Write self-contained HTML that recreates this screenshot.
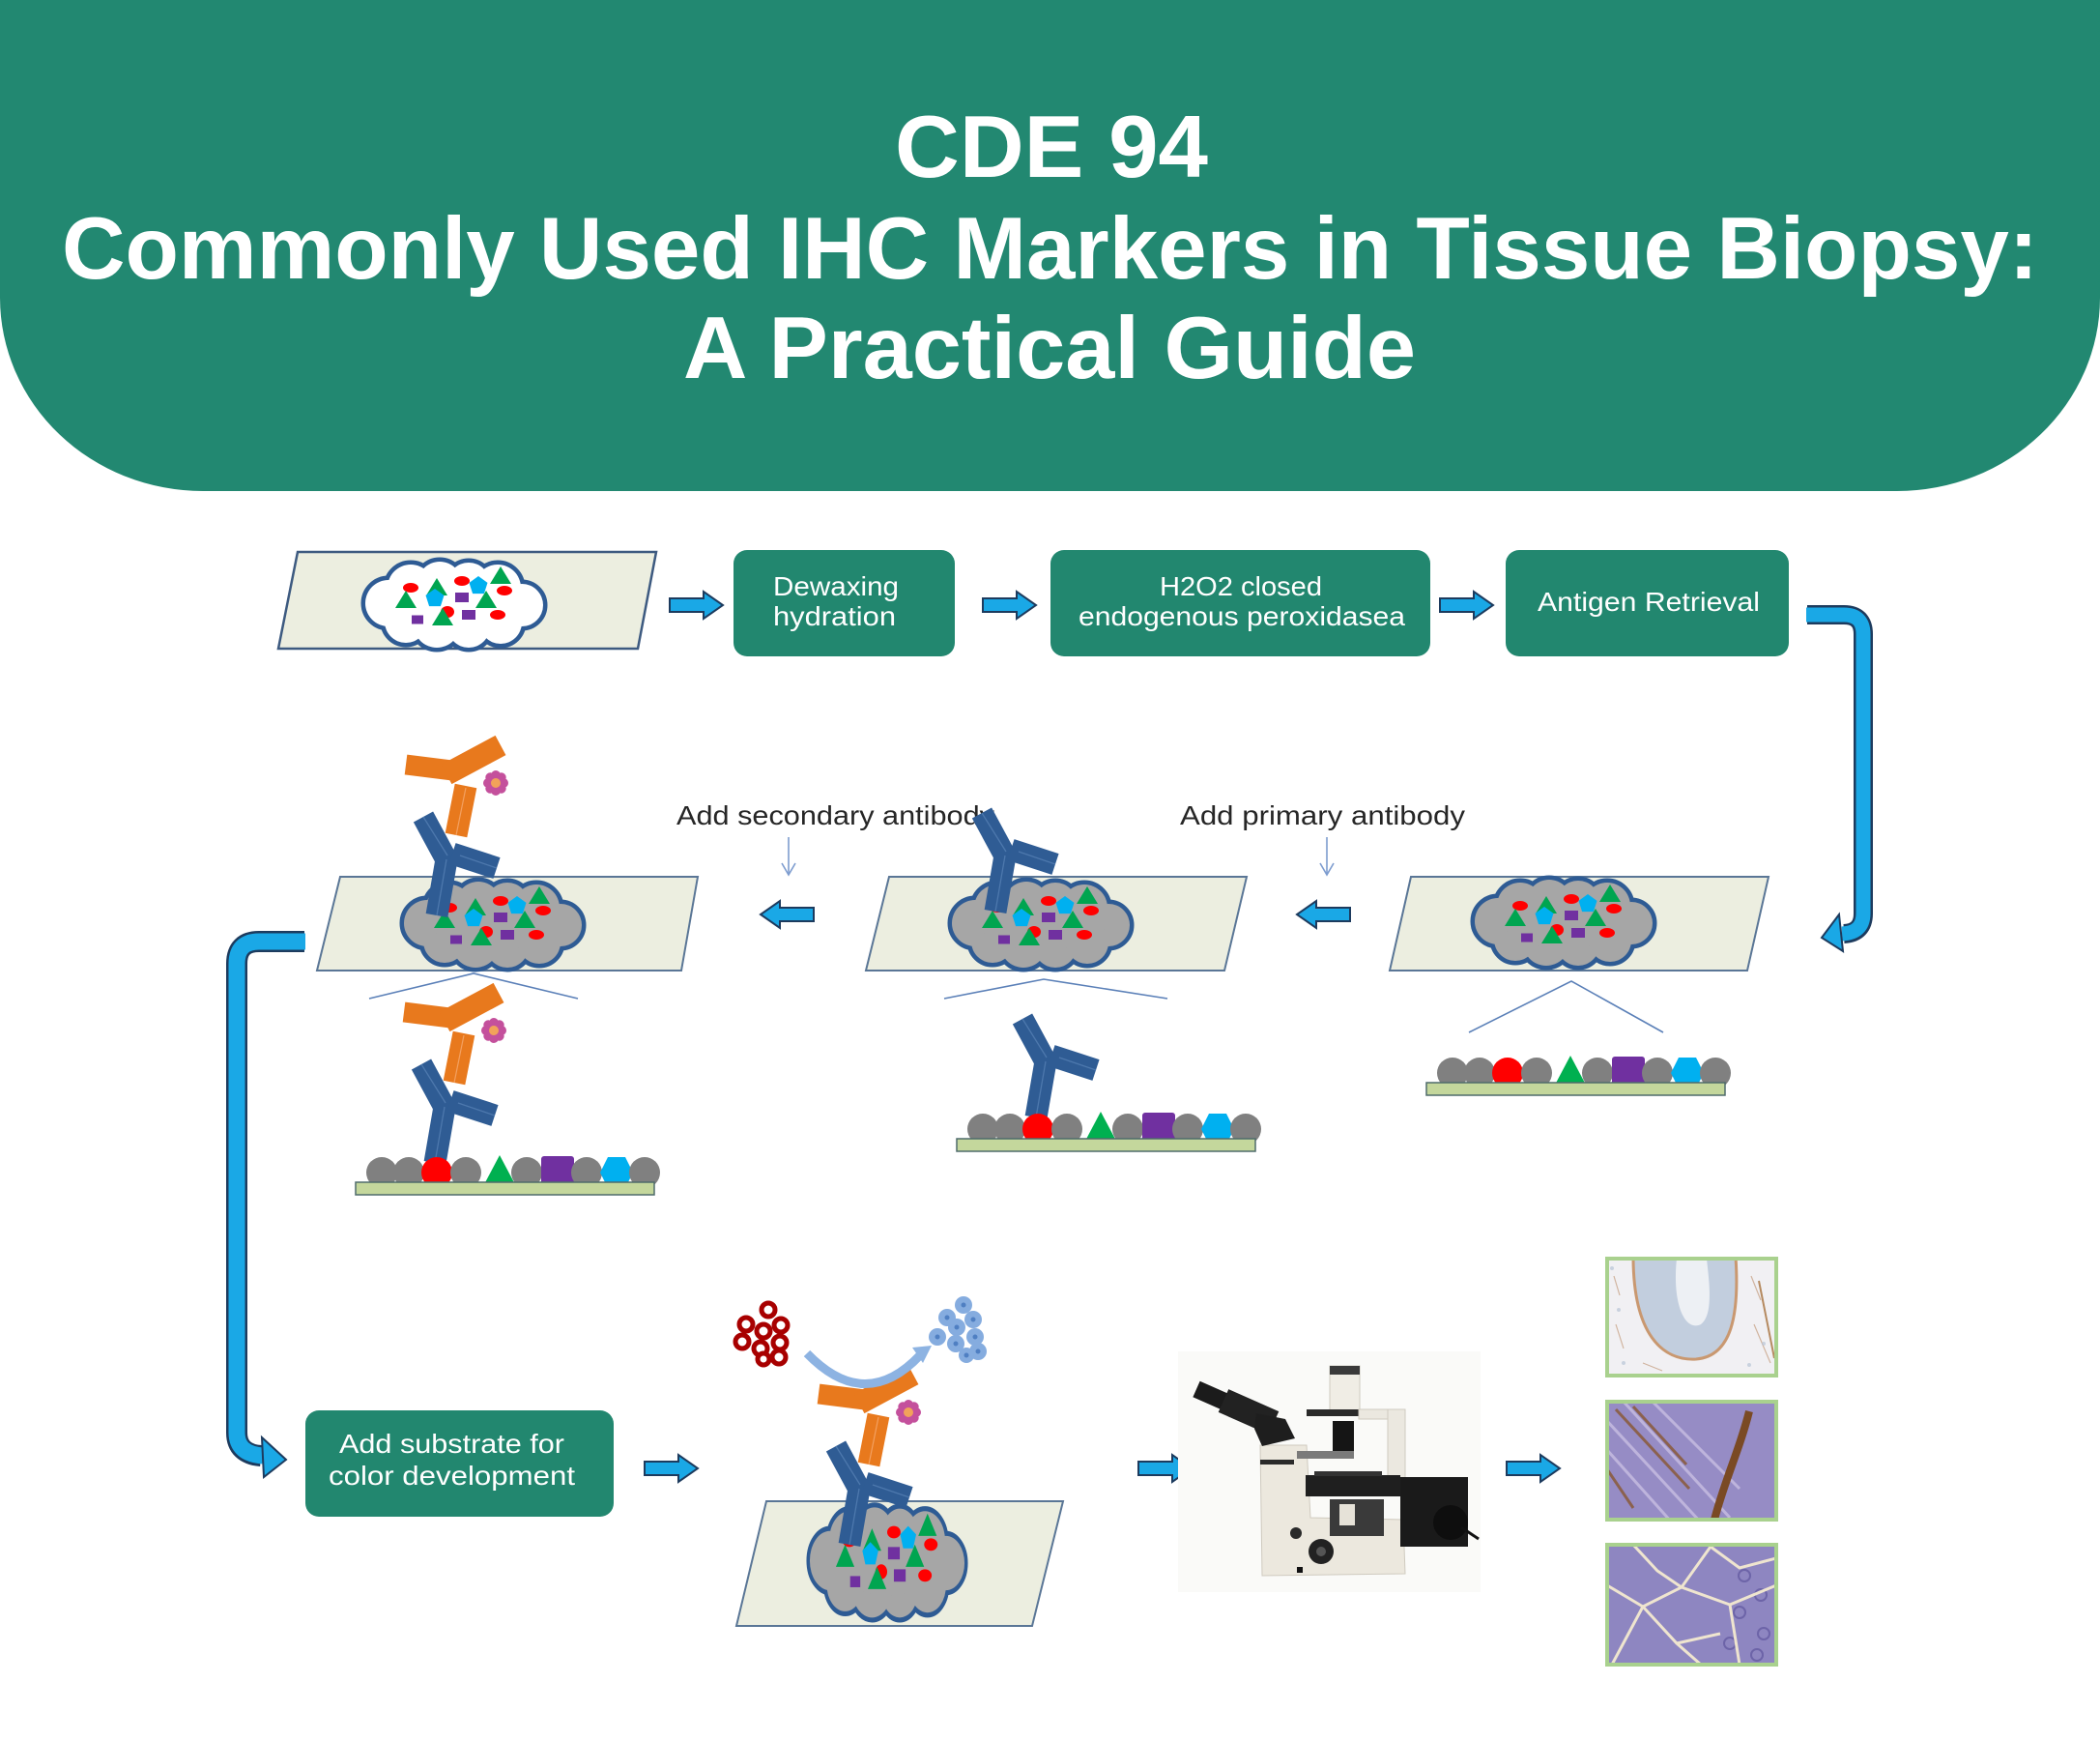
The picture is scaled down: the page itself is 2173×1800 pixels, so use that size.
<!DOCTYPE html>
<html><head><meta charset="utf-8"><style>
html,body{margin:0;padding:0;background:#fff;width:2173px;height:1800px;overflow:hidden}
svg{display:block}
</style></head><body>
<svg xmlns="http://www.w3.org/2000/svg" xmlns:xlink="http://www.w3.org/1999/xlink" width="2173" height="1800" viewBox="0 0 2173 1800" font-family="'Liberation Sans', Arial, sans-serif">
<defs>
  <g id="cl">
    <circle cx="-68" cy="-2" r="24"/><circle cx="-45" cy="-18" r="24"/><circle cx="-15" cy="-22" r="23"/>
    <circle cx="15" cy="-22" r="22"/><circle cx="45" cy="-18" r="24"/><circle cx="70" cy="0" r="22"/>
    <circle cx="48" cy="18" r="22"/><circle cx="15" cy="22" r="22"/><circle cx="-18" cy="20" r="24"/>
    <circle cx="-50" cy="17" r="22"/><ellipse cx="0" cy="0" rx="62" ry="26"/>
  </g>
  <g id="cc">
    <g fill="#ff0000">
      <ellipse cx="-45" cy="-18" rx="8" ry="5"/><ellipse cx="8" cy="-25" rx="8" ry="5"/>
      <ellipse cx="52" cy="-15" rx="8" ry="5"/><ellipse cx="-7" cy="7" rx="7" ry="6"/>
      <ellipse cx="45" cy="10" rx="8" ry="5"/>
    </g>
    <g fill="#00a550">
      <polygon points="-29,-10 -7,-10 -18,-28"/><polygon points="37,-22 59,-22 48,-40"/>
      <polygon points="-61,3 -39,3 -50,-15"/><polygon points="22,3 44,3 33,-15"/>
      <polygon points="-23,21 -1,21 -12,3"/>
    </g>
    <g fill="#00b0f0">
      <polygon points="25,-30 34.5,-23.1 30.9,-11.9 19.1,-11.9 15.5,-23.1"/>
      <polygon points="-20,-17 -10.5,-10.1 -14.1,1.1 -25.9,1.1 -29.5,-10.1"/>
    </g>
    <g fill="#7030a0">
      <rect x="1" y="-13" width="14" height="10"/><rect x="-44" y="10.5" width="12" height="9"/>
      <rect x="8" y="5" width="14" height="10"/>
    </g>
  </g>
  <g id="ab1">
    <g stroke="#2f5c94" stroke-width="23">
      <line x1="2" y1="0" x2="12" y2="-58"/>
      <line x1="15" y1="-52" x2="-12" y2="-102"/>
      <line x1="18" y1="-64" x2="64" y2="-49"/>
    </g>
    <g stroke="#4d78ad" stroke-width="1.3">
      <line x1="2" y1="0" x2="12" y2="-58"/>
      <line x1="13" y1="-62" x2="-12" y2="-102"/>
      <line x1="26" y1="-62" x2="64" y2="-49"/>
    </g>
  </g>
  <g id="ab2">
    <use xlink:href="#ab1"/>
    <g stroke="#e8791d" stroke-width="23">
      <line x1="22" y1="-83" x2="32" y2="-134"/>
      <line x1="-30" y1="-156" x2="18" y2="-150" stroke-width="21"/>
      <line x1="12" y1="-146" x2="68" y2="-176"/>
    </g>
    <g stroke="#f3a060" stroke-width="1.2">
      <line x1="22" y1="-83" x2="32" y2="-132"/>
    </g>
    <g fill="#c4509c">
      <circle cx="71" cy="-137" r="5"/><circle cx="55" cy="-137" r="5"/><circle cx="63" cy="-145" r="5"/><circle cx="63" cy="-129" r="5"/>
      <circle cx="68.7" cy="-142.7" r="5"/><circle cx="57.3" cy="-142.7" r="5"/><circle cx="68.7" cy="-131.3" r="5"/><circle cx="57.3" cy="-131.3" r="5"/>
    </g>
    <circle cx="63" cy="-137" r="5" fill="#f2a25a"/>
  </g>
  <g id="beads">
    <circle cx="0" cy="0" r="16" fill="#808080"/>
    <circle cx="28" cy="0" r="16" fill="#808080"/>
    <circle cx="57" cy="0" r="16" fill="#ff0000"/>
    <circle cx="87" cy="0" r="16" fill="#808080"/>
    <polygon points="104,16 140,16 122,-18" fill="#00b050"/>
    <circle cx="150" cy="0" r="16" fill="#808080"/>
    <rect x="165" y="-17" width="34" height="34" rx="3" fill="#7030a0"/>
    <circle cx="212" cy="0" r="16" fill="#808080"/>
    <polygon points="234,-16 252,-16 260,0 252,16 234,16 226,0" fill="#00b0f0"/>
    <circle cx="272" cy="0" r="16" fill="#808080"/>
    <rect x="-27" y="10" width="309" height="13" fill="#c4d79c" stroke="#4f6b6b" stroke-width="1.5"/>
  </g>
  <path id="ra" d="M0,-7 H35 V-14 L55,0 L35,14 V7 H0 Z" fill="#1aa8e6" stroke="#1d3b5e" stroke-width="2"/>
  <path id="la" d="M55,-7 H20 V-14 L0,0 L20,14 V7 H55 Z" fill="#1aa8e6" stroke="#1d3b5e" stroke-width="2"/>
  <clipPath id="c1"><rect x="1663" y="1302" width="175" height="121"/></clipPath>
  <clipPath id="c2"><rect x="1663" y="1450" width="175" height="122"/></clipPath>
  <clipPath id="c3"><rect x="1663" y="1598" width="175" height="124"/></clipPath>
</defs>

<!-- Header -->
<path d="M0,0 H2173 V308 A210,200 0 0 1 1963,508 H210 A210,200 0 0 1 0,308 Z" fill="#228871"/>
<g fill="#ffffff" font-weight="bold" font-size="91">
  <text x="926" y="183" textLength="324" lengthAdjust="spacingAndGlyphs">CDE 94</text>
  <text x="64" y="288" textLength="2045" lengthAdjust="spacingAndGlyphs">Commonly Used IHC Markers in Tissue Biopsy:</text>
  <text x="707" y="391" textLength="758" lengthAdjust="spacingAndGlyphs">A Practical Guide</text>
</g>

<!-- Row 1 -->
<polygon points="308,571 679,571 660,671 288,671" fill="#eceee0" stroke="#3d5a80" stroke-width="2.5"/>
<use xlink:href="#cl" transform="translate(470,626)" fill="#2e5b94" stroke="#2e5b94" stroke-width="9"/>
<use xlink:href="#cl" transform="translate(470,626)" fill="#ffffff"/>
<use xlink:href="#cc" transform="translate(470,626)"/>

<use xlink:href="#ra" transform="translate(693,626)"/>
<rect x="759" y="569" width="229" height="110" rx="14" fill="#22876f"/>
<g fill="#fff" font-size="28">
  <text x="800" y="616" textLength="130" lengthAdjust="spacingAndGlyphs">Dewaxing</text>
  <text x="800" y="647" textLength="127" lengthAdjust="spacingAndGlyphs">hydration</text>
</g>
<use xlink:href="#ra" transform="translate(1017,626)"/>
<rect x="1087" y="569" width="393" height="110" rx="14" fill="#22876f"/>
<g fill="#fff" font-size="28">
  <text x="1200" y="616" textLength="168" lengthAdjust="spacingAndGlyphs">H2O2 closed</text>
  <text x="1116" y="647" textLength="338" lengthAdjust="spacingAndGlyphs">endogenous peroxidasea</text>
</g>
<use xlink:href="#ra" transform="translate(1490,626)"/>
<rect x="1558" y="569" width="293" height="110" rx="14" fill="#22876f"/>
<text x="1591" y="632" fill="#fff" font-size="28" textLength="230" lengthAdjust="spacingAndGlyphs">Antigen Retrieval</text>

<!-- Right connector -->
<path d="M1870,636 H1908 Q1928,636 1928,656 V945 Q1928,965 1908,966" fill="none" stroke="#1d3b5e" stroke-width="20"/>
<path d="M1869,636 H1908 Q1928,636 1928,656 V945 Q1928,965 1906,966" fill="none" stroke="#1aa8e6" stroke-width="15"/>
<polygon points="1903,946 1907,984 1885,970" fill="#1aa8e6" stroke="#1d3b5e" stroke-width="2"/>

<!-- Row 2 labels -->
<g fill="#262626" font-size="28">
  <text x="700" y="853" textLength="329" lengthAdjust="spacingAndGlyphs">Add secondary antibody</text>
  <text x="1221" y="853" textLength="295" lengthAdjust="spacingAndGlyphs">Add primary antibody</text>
</g>
<g stroke="#7d9ccf" stroke-width="1.6" fill="none">
  <line x1="816" y1="866" x2="816" y2="904"/><polyline points="809,893 816,905 823,893"/>
  <line x1="1373" y1="866" x2="1373" y2="904"/><polyline points="1366,893 1373,905 1380,893"/>
</g>
<use xlink:href="#la" transform="translate(787,946)"/>
<use xlink:href="#la" transform="translate(1342,946)"/>

<!-- Right slide -->
<polygon points="1460,907 1830,907 1808,1004 1438,1004" fill="#eceee0" stroke="#5a7696" stroke-width="2"/>
<use xlink:href="#cl" transform="translate(1618,955)" fill="#2e5b94" stroke="#2e5b94" stroke-width="9"/>
<use xlink:href="#cl" transform="translate(1618,955)" fill="#a6a6a6"/>
<use xlink:href="#cc" transform="translate(1618,955)"/>
<polyline points="1520,1068 1626,1015 1721,1068" fill="none" stroke="#5b80b8" stroke-width="1.6"/>
<use xlink:href="#beads" transform="translate(1503,1110)"/>

<!-- Middle slide -->
<polygon points="920,907 1290,907 1267,1004 896,1004" fill="#eceee0" stroke="#5a7696" stroke-width="2"/>
<use xlink:href="#cl" transform="translate(1077,957)" fill="#2e5b94" stroke="#2e5b94" stroke-width="9"/>
<use xlink:href="#cl" transform="translate(1077,957)" fill="#a6a6a6"/>
<use xlink:href="#cc" transform="translate(1077,957)"/>
<use xlink:href="#ab1" transform="translate(1028,943)"/>
<polyline points="977,1033 1080,1013 1208,1033" fill="none" stroke="#5b80b8" stroke-width="1.6"/>
<use xlink:href="#ab1" transform="translate(1070,1156)"/>
<use xlink:href="#beads" transform="translate(1017,1168)"/>

<!-- Left slide -->
<polygon points="352,907 722,907 705,1004 328,1004" fill="#eceee0" stroke="#5a7696" stroke-width="2"/>
<use xlink:href="#cl" transform="translate(510,957)" fill="#2e5b94" stroke="#2e5b94" stroke-width="9"/>
<use xlink:href="#cl" transform="translate(510,957)" fill="#a6a6a6"/>
<use xlink:href="#cc" transform="translate(510,957)"/>
<use xlink:href="#ab2" transform="translate(450,947)"/>
<polyline points="382,1033 490,1007 598,1033" fill="none" stroke="#5b80b8" stroke-width="1.6"/>
<use xlink:href="#ab2" transform="translate(448,1203)"/>
<use xlink:href="#beads" transform="translate(395,1213)"/>

<!-- Left connector -->
<path d="M315,974 H268 Q245,974 245,997 V1482 Q245,1504 270,1506" fill="none" stroke="#1d3b5e" stroke-width="22"/>
<path d="M316,974 H268 Q245,974 245,997 V1482 Q245,1504 272,1506" fill="none" stroke="#1aa8e6" stroke-width="17"/>
<polygon points="271,1487 273,1528 296,1510" fill="#1aa8e6" stroke="#1d3b5e" stroke-width="2"/>

<!-- Row 3 -->
<rect x="316" y="1459" width="319" height="110" rx="14" fill="#22876f"/>
<g fill="#fff" font-size="28">
  <text x="351" y="1503" textLength="233" lengthAdjust="spacingAndGlyphs">Add substrate for</text>
  <text x="340" y="1536" textLength="255" lengthAdjust="spacingAndGlyphs">color development</text>
</g>
<use xlink:href="#ra" transform="translate(667,1519)"/>

<!-- bottom slide -->
<polygon points="793,1553 1100,1553 1068,1682 762,1682" fill="#eceee0" stroke="#5a7696" stroke-width="2"/>
<use xlink:href="#cl" transform="translate(918,1617) scale(0.87,1.28)" fill="#2e5b94" stroke="#2e5b94" stroke-width="8"/>
<use xlink:href="#cl" transform="translate(918,1617) scale(0.87,1.28)" fill="#a6a6a6"/>
<use xlink:href="#cc" transform="translate(918,1617) scale(0.87,1.28)"/>
<use xlink:href="#ab2" transform="translate(877,1598)"/>

<!-- red cells -->
<g fill="#ffffff" stroke="#a80000" stroke-width="5">
  <circle cx="795" cy="1355" r="7"/><circle cx="772" cy="1370" r="7"/><circle cx="790" cy="1377" r="7"/>
  <circle cx="808" cy="1371" r="7"/><circle cx="768" cy="1388" r="7"/><circle cx="787" cy="1395" r="7"/>
  <circle cx="807" cy="1389" r="7"/><circle cx="806" cy="1404" r="7"/><circle cx="790" cy="1406" r="6"/>
</g>
<!-- blue cells -->
<g fill="#85acdf">
  <circle cx="997" cy="1350" r="9"/><circle cx="980" cy="1363" r="9"/><circle cx="1007" cy="1365" r="9"/>
  <circle cx="990" cy="1373" r="9"/><circle cx="970" cy="1383" r="9"/><circle cx="989" cy="1390" r="9"/>
  <circle cx="1009" cy="1383" r="9"/><circle cx="1012" cy="1398" r="9"/><circle cx="1000" cy="1402" r="8"/>
</g>
<g fill="#4f7fc2">
  <circle cx="997" cy="1350" r="2.5"/><circle cx="980" cy="1363" r="2.5"/><circle cx="1007" cy="1365" r="2.5"/>
  <circle cx="990" cy="1373" r="2.5"/><circle cx="970" cy="1383" r="2.5"/><circle cx="989" cy="1390" r="2.5"/>
  <circle cx="1009" cy="1383" r="2.5"/><circle cx="1012" cy="1398" r="2.5"/><circle cx="1000" cy="1402" r="2.5"/>
</g>
<path d="M835,1400 Q895,1462 952,1402" fill="none" stroke="#8db3e2" stroke-width="9"/>
<polygon points="944,1394 964,1392 955,1410" fill="#8db3e2"/>

<use xlink:href="#ra" transform="translate(1178,1519)"/>

<!-- Microscope -->
<rect x="1219" y="1398" width="313" height="249" fill="#fafaf8"/>
<!-- base -->
<polygon points="1304,1495 1352,1495 1356,1570 1452,1572 1454,1628 1306,1630" fill="#ece8de" stroke="#cfcabf" stroke-width="1"/>
<rect x="1304" y="1510" width="35" height="5" fill="#2a2a2a"/>
<!-- lamp/pillar -->
<rect x="1376" y="1413" width="31" height="46" fill="#f0ede5" stroke="#cfcabf" stroke-width="1"/>
<rect x="1376" y="1413" width="31" height="9" fill="#3a3a3a"/>
<rect x="1352" y="1458" width="60" height="7" fill="#2a2a2a"/>
<rect x="1406" y="1458" width="48" height="10" fill="#ebe8e0" stroke="#cfcabf" stroke-width="1"/>
<rect x="1436" y="1458" width="18" height="74" fill="#ebe8e0" stroke="#cfcabf" stroke-width="1"/>
<rect x="1379" y="1470" width="22" height="38" fill="#151515"/>
<rect x="1342" y="1501" width="59" height="8" fill="#7a7a7a"/>
<!-- eyepieces/head -->
<line x1="1238" y1="1437" x2="1272" y2="1452" stroke="#1b1b1b" stroke-width="18"/>
<line x1="1266" y1="1449" x2="1318" y2="1472" stroke="#222" stroke-width="26"/>
<polygon points="1300,1462 1330,1468 1340,1488 1306,1496 1298,1478" fill="#1e1e1e"/>
<!-- stage -->
<rect x="1351" y="1526" width="98" height="22" fill="#1f1f1f"/>
<rect x="1360" y="1522" width="70" height="5" fill="#333"/>
<rect x="1376" y="1551" width="56" height="38" fill="#3a3a3a"/>
<rect x="1386" y="1556" width="16" height="22" fill="#e6e2d8"/>
<!-- right unit -->
<rect x="1449" y="1528" width="70" height="72" fill="#1a1a1a"/>
<circle cx="1501" cy="1575" r="18" fill="#0e0e0e"/>
<path d="M1512,1580 L1530,1592" stroke="#111" stroke-width="3"/>
<circle cx="1367" cy="1605" r="13" fill="#222"/>
<circle cx="1367" cy="1605" r="5" fill="#555"/>
<circle cx="1341" cy="1586" r="6" fill="#2a2a2a"/>
<rect x="1342" y="1621" width="6" height="6" fill="#111"/>

<use xlink:href="#ra" transform="translate(1559,1519)"/>

<!-- Tissue image 1 -->
<g clip-path="url(#c1)">
  <rect x="1663" y="1302" width="175" height="121" fill="#f1f0f3"/>
  <g stroke="#c9a58a" stroke-width="1.2" opacity="0.8">
    <line x1="1670" y1="1320" x2="1676" y2="1340"/><line x1="1672" y1="1370" x2="1680" y2="1395"/>
    <line x1="1812" y1="1320" x2="1822" y2="1345"/><line x1="1815" y1="1370" x2="1832" y2="1410"/>
    <line x1="1700" y1="1410" x2="1720" y2="1418"/>
  </g>
  <g fill="#b8c4d6" opacity="0.7">
    <circle cx="1675" cy="1355" r="2"/><circle cx="1680" cy="1410" r="2"/><circle cx="1825" cy="1390" r="2"/>
    <circle cx="1810" cy="1412" r="2"/><circle cx="1668" cy="1312" r="2"/>
  </g>
  <path d="M1690,1300 C1690,1380 1720,1408 1755,1406 C1792,1403 1800,1360 1796,1300 Z" fill="#c2cede" stroke="#c99870" stroke-width="3"/>
  <path d="M1735,1302 C1730,1350 1744,1378 1760,1370 C1774,1360 1768,1322 1766,1302 Z" fill="#edf0f4"/>
  <path d="M1820,1325 L1836,1405" stroke="#b58a60" stroke-width="2"/>
</g>
<rect x="1663" y="1302" width="175" height="121" fill="none" stroke="#a9d18e" stroke-width="4"/>

<!-- Tissue image 2 -->
<g clip-path="url(#c2)">
  <rect x="1663" y="1450" width="175" height="122" fill="#968cc5"/>
  <g stroke="#c8bfe2" stroke-width="3" opacity="0.8">
    <line x1="1663" y1="1470" x2="1760" y2="1575"/><line x1="1680" y1="1450" x2="1790" y2="1570"/>
    <line x1="1710" y1="1450" x2="1800" y2="1540"/><line x1="1663" y1="1500" x2="1730" y2="1575"/>
  </g>
  <g stroke="#8a5a3a" stroke-width="3" opacity="0.85">
    <line x1="1672" y1="1458" x2="1748" y2="1540"/><line x1="1690" y1="1455" x2="1745" y2="1515"/>
    <line x1="1663" y1="1520" x2="1690" y2="1560"/>
  </g>
  <path d="M1810,1460 C1800,1500 1785,1530 1774,1572" fill="none" stroke="#7a4a24" stroke-width="8"/>
</g>
<rect x="1663" y="1450" width="175" height="122" fill="none" stroke="#a9d18e" stroke-width="4"/>

<!-- Tissue image 3 -->
<g clip-path="url(#c3)">
  <rect x="1663" y="1598" width="175" height="124" fill="#8e86c1"/>
  <g fill="none" stroke="#6d64a8" stroke-width="2">
    <circle cx="1805" cy="1630" r="6"/><circle cx="1822" cy="1650" r="6"/><circle cx="1800" cy="1668" r="6"/>
    <circle cx="1825" cy="1690" r="6"/><circle cx="1790" cy="1700" r="6"/><circle cx="1818" cy="1712" r="6"/>
  </g>
  <g fill="none" stroke="#efe5cf" stroke-width="3">
    <path d="M1668,1722 L1700,1662 L1740,1642 L1770,1600"/>
    <path d="M1700,1662 L1735,1700 L1760,1722"/>
    <path d="M1740,1642 L1790,1660 L1838,1640"/>
    <path d="M1790,1660 L1800,1722"/>
    <path d="M1663,1640 L1700,1662"/>
    <path d="M1770,1600 L1800,1622 L1838,1612"/>
    <path d="M1690,1598 L1715,1625 L1740,1642"/>
    <path d="M1735,1700 L1780,1690"/>
  </g>
</g>
<rect x="1663" y="1598" width="175" height="124" fill="none" stroke="#a9d18e" stroke-width="4"/>
</svg>
</body></html>
